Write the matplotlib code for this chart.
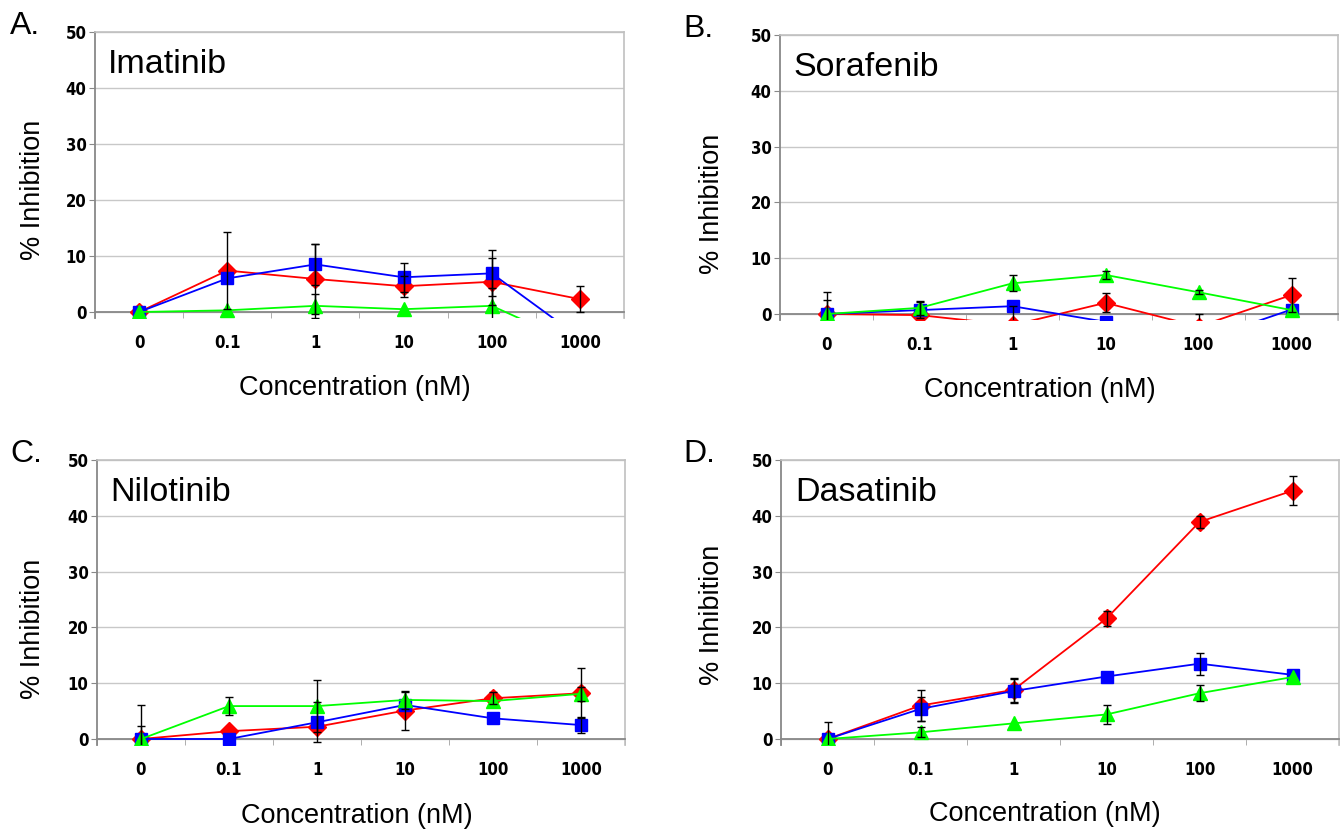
import numpy as np
import matplotlib.pyplot as plt

# categorias do eixo x (concentração em nM)
cats = ['0', '0.1', '1', '10', '100', '1000']

# A. Imatinib
ima_red = [0, 7.4, 5.9, 4.6, 5.4, 2.3]
ima_red_err = [0, 6.8, 6.2, 1.9, 4.2, 2.3]
ima_blue = [0, 6.0, 8.5, 6.2, 6.9, -4.6]
ima_blue_err = [0, 0, 3.6, 2.6, 4.1, 0]
ima_green = [0, 0.3, 1.1, 0.5, 1.1, -6.0]
ima_green_err = [0, 0, 2.1, 0, 3.1, 0]

# B. Sorafenib
sor_red = [0, -0.2, -2.0, 2.0, -2.25, 3.4]
sor_red_err = [3.9, 0, 3.5, 1.7, 2.25, 3.0]
sor_blue = [0, 0.7, 1.4, -1.4, -4.9, 0.8]
sor_blue_err = [2.5, 1.4, 0, 0, 0, 0]
sor_green = [0, 1.1, 5.5, 7.0, 3.9, 0.7]
sor_green_err = [0, 1.2, 1.4, 0.7, 0.4, 0]

# C. Nilotinib
nil_red = [0, 1.4, 2.2, 5.1, 7.3, 8.2]
nil_red_err = [2.3, 0, 0, 3.4, 1.1, 4.5]
nil_blue = [0, 0, 3.0, 6.1, 3.7, 2.5]
nil_blue_err = [6.1, 0, 3.6, 0, 0, 1.4]
nil_green = [0, 5.9, 5.9, 7.0, 6.8, 8.1]
nil_green_err = [0, 1.6, 4.6, 1.6, 0, 1.3]

# D. Dasatinib
das_red = [0, 6.0, 8.8, 21.6, 38.9, 44.5]
das_red_err = [0, 2.7, 2.1, 1.3, 1.0, 2.6]
das_blue = [0, 5.4, 8.6, 11.2, 13.5, 11.5]
das_blue_err = [3.0, 2.1, 2.2, 0, 2.0, 0]
das_green = [0, 1.2, 2.8, 4.4, 8.2, 11.1]
das_green_err = [0, 0.9, 0, 1.7, 1.4, 0]

paineis = [
    ('A.', 'Imatinib', (ima_red, ima_red_err), (ima_blue, ima_blue_err), (ima_green, ima_green_err)),
    ('B.', 'Sorafenib', (sor_red, sor_red_err), (sor_blue, sor_blue_err), (sor_green, sor_green_err)),
    ('C.', 'Nilotinib', (nil_red, nil_red_err), (nil_blue, nil_blue_err), (nil_green, nil_green_err)),
    ('D.', 'Dasatinib', (das_red, das_red_err), (das_blue, das_blue_err), (das_green, das_green_err)),
]

# layout em pixels: esquerda, direita, topo (y=50), linha do zero, x da letra,
# x/y do rótulo y, x/y do rótulo x
caixas = [(95, 624, 32, 312, 10, 33, 190, 355, 388),
          (780, 1338, 35, 314, 683, 712, 204, 1040, 390),
          (97, 625, 460, 739, 10, 33, 629, 357, 816),
          (781, 1339, 460, 739, 683, 712, 615, 1045, 814)]

W, H = 1340, 833
fig = plt.figure(figsize=(W / 100, H / 100), dpi=100)
fonte_texto = ['Liberation Sans', 'DejaVu Sans']

estilos = [('#FF0000', 'D', 9), ('#0000FF', 's', 9), ('#00FF00', '^', 10)]
x = np.arange(len(cats))
ymin = -1.0

for (letra, nome, *series), (l, r, t, z, lx, yx, yy, xx, xy) in zip(paineis, caixas):
    ppu = (z - t) / 50.0
    b = z - ymin * ppu
    ax = fig.add_axes([l / W, 1 - b / H, (r - l) / W, (b - t) / H])
    ax.set_xlim(-0.5, 5.5)
    ax.set_ylim(ymin, 50)

    for (vals, errs), (cor, mk, ms) in zip(series, estilos):
        ax.plot(x, vals, color=cor, lw=1.3, marker=mk, ms=ms, mec=cor, zorder=3)
        errs = np.array(errs)
        m = errs > 0
        ax.errorbar(x[m], np.array(vals)[m], yerr=errs[m], fmt='none', ecolor='black',
                    elinewidth=1, capsize=3, capthick=1, zorder=4)

    # grade e bordas ao estilo Excel
    ax.set_yticks([0, 10, 20, 30, 40, 50])
    ax.grid(axis='y', color='#C8C8C8', lw=1)
    ax.set_axisbelow(True)
    ax.spines['bottom'].set_position(('data', 0))
    ax.spines['bottom'].set_color('#888888')
    ax.spines['bottom'].set_linewidth(1.3)
    ax.spines['left'].set_color('#888888')
    ax.spines['left'].set_linewidth(1.3)
    for s in ['top', 'right']:
        ax.spines[s].set_color('#C0C0C0')
        ax.spines[s].set_linewidth(1.2)

    ax.set_xticks(x)
    ax.set_xticklabels(cats)
    ax.set_xticks(np.arange(-0.5, 6, 1), minor=True)
    ax.tick_params(axis='x', which='major', length=0, pad=16)
    ax.tick_params(axis='x', which='minor', length=4.5, color='#A0A0A0', direction='out')
    ax.tick_params(axis='y', length=4, color='#888888', pad=2)
    for lbl in ax.get_xticklabels() + ax.get_yticklabels():
        lbl.set_family('DejaVu Sans')
        lbl.set_stretch('condensed')
        lbl.set_fontweight('bold')
        lbl.set_fontsize(12)

    ax.text(0.025, 0.94, nome, transform=ax.transAxes, ha='left', va='top',
            fontsize=24.5, family=fonte_texto)
    fig.text(yx / W, 1 - yy / H, '% Inhibition', fontsize=19.5, family=fonte_texto,
             rotation=90, ha='center', va='center')
    fig.text(xx / W, 1 - xy / H, 'Concentration (nM)', fontsize=19.5,
             family=fonte_texto, ha='center', va='center')
    fig.text(lx / W, 1 - (t - 6) / H, letra, fontsize=23, family=fonte_texto,
             ha='left', va='center')

fig.savefig('out.png', dpi=100)
